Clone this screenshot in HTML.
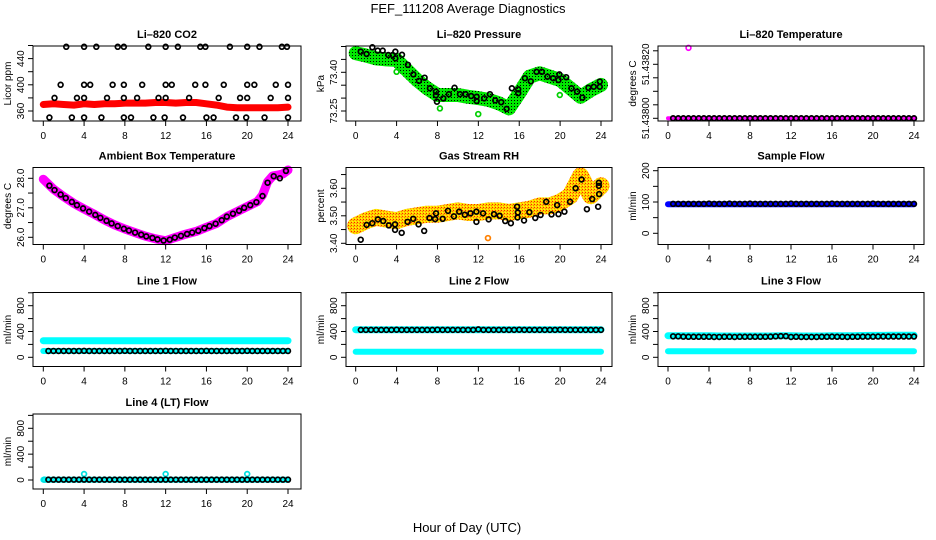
<!DOCTYPE html>
<html><head><meta charset="utf-8"><style>
html,body{margin:0;padding:0;background:#fff;}
svg{display:block;font-family:"Liberation Sans",sans-serif;}
</style></head><body>
<svg id="chart" width="936" height="540" viewBox="0 0 936 540" xmlns="http://www.w3.org/2000/svg">
<defs>
<pattern id="pg" width="3" height="3" patternUnits="userSpaceOnUse"><rect width="3" height="3" fill="#00e800"/><rect x="1" y="1" width="1" height="1" fill="#000"/></pattern>
<pattern id="py" width="3" height="3" patternUnits="userSpaceOnUse"><rect width="3" height="3" fill="#ffd000"/><rect x="0" y="0" width="1" height="1" fill="#ff2000"/><rect x="2" y="1" width="1" height="1" fill="#ff8000"/><rect x="1" y="2" width="1" height="1" fill="#ffff00"/></pattern>
</defs>
<text x="468" y="13" text-anchor="middle" font-size="13">FEF_111208  Average Diagnostics</text>
<text x="467" y="532" text-anchor="middle" font-size="13">Hour of Day (UTC)</text>
</svg>
<script>
// ---------- data ----------
const HOURS = [0,1,2,3,4,5,6,7,8,9,10,11,12,13,14,15,16,17,18,19,20,21,22,23,24];
const H48 = [0.5,1,1.5,2,2.5,3,3.5,4,4.5,5,5.5,6,6.5,7,7.5,8,8.5,9,9.5,10,10.5,11,11.5,12,12.5,13,13.5,14,14.5,15,15.5,16,16.5,17,17.5,18,18.5,19,19.5,20,20.5,21,21.5,22,22.5,23,23.5,24];
const XTICKS = [0,4,8,12,16,20,24];

const co2Band = [370,371,370,369,371,370,371,371,372,372,372,373,373,372,373,373,371,369,366,365,365,365,365,365,366];
const co2PtX = [2.25,4.0,5.2,7.3,7.9,10.3,12.0,13.2,15.4,15.9,18.3,20.0,21.2,23.4,23.9,1.7,4.0,4.6,6.8,7.9,9.7,12.0,12.6,14.9,15.9,17.7,20.0,20.7,22.8,24.0,1.1,3.3,4.0,6.25,7.9,9.2,11.3,12.0,14.3,17.2,19.3,20.0,22.3,24.0,0.6,2.8,4.0,5.7,7.9,8.6,10.8,11.9,13.7,16.0,16.7,18.9,19.9,21.7,24.0];
const co2PtV = [458,458,458,458,458,458,458,458,458,458,458,458,458,458,458,400,400,400,400,400,400,400,400,400,400,400,400,400,400,400,380,380,380,380,380,380,380,380,380,380,380,380,380,380,350,350,350,350,350,350,350,350,350,350,350,350,350,350,350];

const presBand = [73.474,73.465,73.454,73.45,73.448,73.409,73.37,73.338,73.312,73.312,73.312,73.305,73.30,73.293,73.28,73.26,73.319,73.383,73.396,73.383,73.37,73.338,73.305,73.331,73.351];
const presPtX = [0.49,1.07,1.63,2.15,2.64,3.19,3.62,3.88,3.88,4.53,5.11,5.64,6.19,6.74,7.26,7.85,7.85,7.95,8.57,9.12,9.67,10.2,10.75,11.3,11.83,11.83,12.57,13.13,13.65,14.24,14.76,15.28,15.9,15.9,16.55,17.13,17.69,18.21,18.76,19.32,19.84,19.93,20.59,21.11,21.66,22.18,22.77,23.29,23.88,23.88];
const presPtV = [73.48,73.471,73.497,73.484,73.484,73.467,73.467,73.48,73.454,73.468,73.429,73.392,73.367,73.379,73.338,73.325,73.311,73.286,73.299,73.315,73.34,73.315,73.315,73.308,73.305,73.289,73.299,73.315,73.291,73.284,73.258,73.338,73.334,73.319,73.377,73.365,73.402,73.402,73.383,73.377,73.37,73.392,73.381,73.338,73.325,73.302,73.34,73.344,73.364,73.344];
const presOutX = [4.0,8.24,11.99,19.97];
const presOutV = [73.402,73.26,73.238,73.312];

const tempBand = [51.438,51.438,51.438,51.438,51.438,51.438,51.438,51.438,51.438,51.438,51.438,51.438,51.438,51.438,51.438,51.438,51.438,51.438,51.438,51.438,51.438,51.438,51.438,51.438,51.438];
const tempOutX = [2.0];
const tempOutV = [51.438261];

const ambX = [0,1,2,3,4,5,6,7,8,9,10,11,12,13,14,15,16,17,18,19,20,21,21.5,22,22.5,23,23.5,24];
const ambV = [27.97,27.63,27.38,27.15,26.96,26.78,26.59,26.42,26.28,26.16,26.04,25.95,25.88,26.0,26.11,26.2,26.34,26.47,26.7,26.87,27.04,27.21,27.43,27.88,28.08,28.11,28.15,28.28];
const ambPtX = [0.6,1.1,1.7,2.2,2.8,3.3,3.9,4.5,5.1,5.6,6.2,6.7,7.3,7.9,8.4,9.0,9.6,10.1,10.7,11.2,11.8,12.4,12.9,13.5,14.1,14.6,15.2,15.8,16.3,16.9,17.5,18.0,18.6,19.2,19.7,20.3,20.9,21.5,22.0,22.6,23.2,23.8];
const ambPtV = [27.75,27.6,27.45,27.33,27.2,27.09,26.98,26.87,26.76,26.66,26.56,26.47,26.38,26.29,26.23,26.16,26.09,26.03,25.98,25.93,25.89,25.92,25.99,26.05,26.11,26.16,26.22,26.31,26.38,26.46,26.58,26.7,26.8,26.9,27.0,27.09,27.19,27.4,27.85,28.07,28.0,28.25];

const rhBand = [3.464,3.482,3.494,3.488,3.482,3.494,3.50,3.506,3.506,3.512,3.518,3.512,3.512,3.518,3.518,3.512,3.518,3.524,3.536,3.536,3.549,3.573,3.645,3.573,3.609];
const rhPtX = [0.49,1.07,1.62,2.17,2.69,3.24,3.85,3.85,4.5,5.08,5.63,6.15,6.7,7.22,7.77,7.86,8.51,9.03,9.61,10.13,10.68,11.23,11.81,11.81,12.46,13.01,13.53,14.08,14.63,15.18,15.79,15.83,15.86,16.47,16.99,17.57,18.09,18.64,19.16,19.71,19.84,20.42,20.97,21.52,22.1,22.62,23.14,23.72,23.82,23.79,23.79];
const rhPtV = [3.413,3.467,3.473,3.487,3.481,3.465,3.469,3.449,3.438,3.478,3.489,3.469,3.445,3.492,3.488,3.509,3.489,3.518,3.498,3.515,3.504,3.509,3.515,3.478,3.509,3.487,3.506,3.50,3.481,3.473,3.533,3.494,3.512,3.483,3.513,3.492,3.503,3.551,3.505,3.539,3.506,3.515,3.551,3.60,3.632,3.524,3.561,3.533,3.579,3.609,3.62];

const sampleBand = [93,93,93,93,93,93,93,93,93,93,93,93,93,93,93,93,93,93,93,93,93,93,93,93,93];
const samplePts = [94,94,94,94,94,94,94,95,94,94,94,95,94,94,94,95,94,94,94,94,94,94,94,95,94,94,94,94,94,94,94,95,94,94,94,94,94,94,94,95,94,94,94,94,94,94,94,94];

const line1BandA = [258,258,258,258,258,258,258,258,258,258,258,258,258,258,258,258,258,258,258,258,258,258,258,258,258];
const line1BandB = [98,98,98,98,98,98,98,98,98,98,98,98,98,98,98,98,98,98,98,98,98,98,98,98,98];
const line1Pts = [98,98,98,98,98,98,98,100,98,98,98,98,98,98,98,100,98,98,98,98,98,98,98,100,98,98,98,98,98,98,98,100,98,98,98,98,98,98,98,100,98,98,98,98,98,98,98,98];

const line2BandA = [428,428,428,428,428,428,428,428,428,428,428,428,428,428,428,428,428,428,428,428,428,428,428,428,428];
const line2BandB = [87,87,87,87,87,87,87,87,87,87,87,87,87,87,87,87,87,87,87,87,87,87,87,87,87];
const line2Pts = [425,425,425,425,425,425,425,428,425,425,425,425,425,425,425,428,425,425,425,425,425,425,425,432,425,425,425,425,425,425,425,428,425,425,425,425,425,425,425,428,425,425,425,425,425,425,425,425];

const line3BandA = [335,335,335,335,335,330,330,330,330,330,330,335,335,330,330,330,335,335,335,338,340,340,342,342,342];
const line3BandB = [93,93,93,93,93,93,93,93,93,93,93,93,93,93,93,93,93,93,93,93,93,93,93,93,93];
const line3Pts = [325,325,320,318,318,318,318,318,315,315,318,318,315,318,318,318,318,318,318,320,325,328,328,315,318,315,315,315,315,318,318,320,318,318,315,318,318,320,320,320,322,322,322,322,322,322,322,322];

const line4Band = [5,5,5,5,5,5,5,5,5,5,5,5,5,5,5,5,5,5,5,5,5,5,5,5,5];
const line4Pts = [5,5,5,5,5,5,5,5,5,5,5,5,5,5,5,5,5,5,5,5,5,5,5,5,5,5,5,5,5,5,5,5,5,5,5,5,5,5,5,5,5,5,5,5,5,5,5,5];
const line4OutX = [0.1,4.0,12.0,20.0];
const line4OutV = [5,93,93,93];

const tempPts = [51.438,51.438,51.438,51.438,51.438,51.438,51.438,51.438,51.438,51.438,51.438,51.438,51.438,51.438,51.438,51.438,51.438,51.438,51.438,51.438,51.438,51.438,51.438,51.438,51.438,51.438,51.438,51.438,51.438,51.438,51.438,51.438,51.438,51.438,51.438,51.438,51.438,51.438,51.438,51.438,51.438,51.438,51.438,51.438,51.438,51.438,51.438,51.438];

// ---------- layout ----------
const svg = document.getElementById('chart');
const NS = 'http://www.w3.org/2000/svg';
const COLS = [[33,301,43.3,288],[346,612,355.7,601],[658,924,668,914]];
const ROWS = [[46,121],[167.5,244.5],[292.5,366.5],[414,489]];

function mk(tag, attrs, parent){
  const e = document.createElementNS(NS, tag);
  for (const k in attrs) e.setAttribute(k, attrs[k]);
  (parent||svg).appendChild(e);
  return e;
}

function panel(name, title, col, row, ref, yTicks, yLabels, ylab){
  const g = mk('g', {});
  
  
  const [bl, br, x0, x24] = COLS[col];
  const [bt, bb] = ROWS[row];
  const xs = h => x0 + h * (x24 - x0) / 24;
  const ys = v => ref[1] + (v - ref[0]) * (ref[3] - ref[1]) / (ref[2] - ref[0]);
  const t = mk('text', {x:(bl+br)/2, y:bt-8, 'text-anchor':'middle', 'font-size':11, 'font-weight':'bold'}, g);
  t.textContent = title;
  
  
  const plot = mk('g', {}, g);
  
  
  const box = mk('rect', {x:bl, y:bt, width:br-bl, height:bb-bt, fill:'none', stroke:'#000', 'stroke-width':1}, g);
  
  
  const xa = mk('g', {}, g);
  
  
  mk('line', {x1:xs(0), x2:xs(24), y1:bb, y2:bb, stroke:'#000'}, xa);
  XTICKS.forEach(h => {
    mk('line', {x1:xs(h), x2:xs(h), y1:bb, y2:bb+5, stroke:'#000'}, xa);
    const l = mk('text', {x:xs(h), y:bb+18, 'text-anchor':'middle', 'font-size':10}, xa);
    l.textContent = h;
    
    
  });
  const ya = mk('g', {}, g);
  
  
  yTicks.forEach(v => mk('line', {x1:bl-5, x2:bl, y1:ys(v), y2:ys(v), stroke:'#000'}, ya));
  yLabels.forEach(lb => {
    const y = ys(parseFloat(lb));
    const l = mk('text', {x:0, y:0, transform:`translate(${bl-9},${y}) rotate(-90)`, 'text-anchor':'middle', 'font-size':10}, ya);
    l.textContent = lb;
    
    
  });
  const yt = mk('text', {x:0, y:0, transform:`translate(${bl-22},${(bt+bb)/2}) rotate(-90)`, 'text-anchor':'middle', 'font-size':10}, ya);
  yt.textContent = ylab;
  
  
  return {plot, xs, ys};
}

function band(p, xsArr, vals, stroke, w, name){
  const pts = xsArr.map((h,i) => p.xs(h).toFixed(1) + ',' + p.ys(vals[i]).toFixed(1)).join(' ');
  const pl = mk('polyline', {points:pts, fill:'none', stroke:stroke, 'stroke-width':w, 'stroke-linejoin':'round', 'stroke-linecap':'round'}, p.plot);
  
  
}
function points(p, xsArr, vals, color, name){
  const g = mk('g', {}, p.plot);
  
  
  xsArr.forEach((h,i) => {
    const c = mk('circle', {cx:p.xs(h), cy:p.ys(vals[i]), r:2.4, fill:'none', stroke:color, 'stroke-width':1.7}, g);
    
    
  });
}

let p = panel('panel-co2','Li\u2013820 CO2',0,0,[360,111,440,58.6],[360,380,400,420,440,460],['360','400','440'],'Licor ppm');
band(p, HOURS, co2Band, '#ff0000', 7, 'co2-band');
points(p, co2PtX, co2PtV, '#000', 'co2-points');

p = panel('panel-pressure','Li\u2013820 Pressure',1,0,[73.25,111,73.40,72.3],[73.25,73.30,73.35,73.40,73.45,73.50],['73.25','73.40'],'kPa');
band(p, HOURS, presBand, 'url(#pg)', 14, 'pressure-band');
points(p, presOutX, presOutV, '#00d000', 'pressure-outliers');
points(p, presPtX, presPtV, '#000', 'pressure-points');

p = panel('panel-li820-temp','Li\u2013820 Temperature',2,0,[51.438,118.3,51.4382,64.3],[51.438,51.43805,51.4381,51.43815,51.4382,51.43825],['51.43800','51.43820'],'degrees C');
band(p, HOURS, tempBand, '#ff00ff', 4, 'temp-band');
points(p, H48, tempPts, '#000', 'temp-points');
points(p, tempOutX, tempOutV, '#ff00ff', 'temp-outlier');

p = panel('panel-ambient','Ambient Box Temperature',0,1,[26,237.3,28,178.3],[26,26.5,27,27.5,28],['26.0','27.0','28.0'],'degrees C');
band(p, ambX, ambV, '#ff00ff', 9, 'ambient-band');
points(p, ambPtX, ambPtV, '#000', 'ambient-points');

p = panel('panel-rh','Gas Stream RH',1,1,[3.4,243.3,3.6,188.3],[3.40,3.45,3.50,3.55,3.60,3.65],['3.40','3.50','3.60'],'percent');
band(p, HOURS, rhBand, 'url(#py)', 17, 'rh-band');
points(p, [12.94], [3.419], '#ff8000', 'rh-outlier');
points(p, rhPtX, rhPtV, '#000', 'rh-points');

p = panel('panel-sample-flow','Sample Flow',2,1,[0,233.3,200,170.7],[0,50,100,150,200],['0','100','200'],'ml/min');
band(p, HOURS, sampleBand, '#0000ff', 6, 'sample-band');
points(p, H48, samplePts, '#000', 'sample-points');

const FT = [0,200,400,600,800,1000];
const FL = ['0','400','800'];
p = panel('panel-line1','Line 1 Flow',0,2,[0,357.3,800,305.7],FT,FL,'ml/min');
band(p, HOURS, line1BandA, '#00ffff', 7, 'line1-band-a');
band(p, HOURS, line1BandB, '#00ffff', 6, 'line1-band-b');
points(p, H48, line1Pts, '#000', 'line1-points');

p = panel('panel-line2','Line 2 Flow',1,2,[0,357.3,800,305.7],FT,FL,'ml/min');
band(p, HOURS, line2BandA, '#00ffff', 7, 'line2-band-a');
band(p, HOURS, line2BandB, '#00ffff', 6, 'line2-band-b');
points(p, H48, line2Pts, '#000', 'line2-points');

p = panel('panel-line3','Line 3 Flow',2,2,[0,357.3,800,305.7],FT,FL,'ml/min');
band(p, HOURS, line3BandA, '#00ffff', 7, 'line3-band-a');
band(p, HOURS, line3BandB, '#00ffff', 6, 'line3-band-b');
points(p, H48, line3Pts, '#000', 'line3-points');

p = panel('panel-line4','Line 4 (LT) Flow',0,3,[0,480,800,428.3],FT,FL,'ml/min');
band(p, HOURS, line4Band, '#00ffff', 6, 'line4-band');
points(p, line4OutX, line4OutV, '#00e0e0', 'line4-outliers');
points(p, H48, line4Pts, '#000', 'line4-points');
</script>
</body></html>
